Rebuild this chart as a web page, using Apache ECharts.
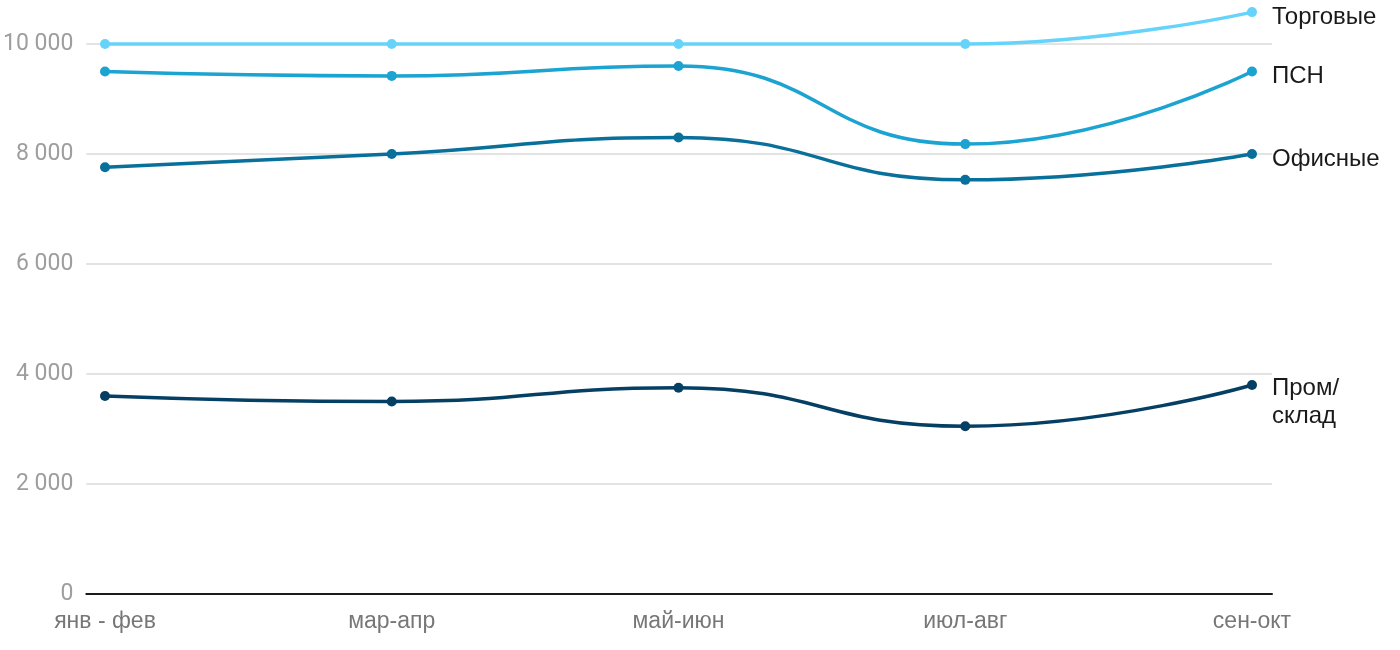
<!DOCTYPE html>
<html><head><meta charset="utf-8">
<script src="https://cdn.jsdelivr.net/npm/echarts@6/dist/echarts.min.js"></script>
<style>html,body{margin:0;padding:0;background:#fff}#c{width:1400px;height:650px}</style>
</head><body><div id="c"></div>
<script>
const categories = ['янв - фев', 'мар-апр', 'май-июн', 'июл-авг', 'сен-окт'];
const seriesNames = ['Торговые', 'ПСН', 'Офисные', 'Пром/\nсклад'];
const trade = [10000, 10000, 10000, 10000, 10580];
const psn = [9500, 9420, 9600, 8180, 9500];
const office = [7760, 8000, 8300, 7530, 8000];
const industrial = [3600, 3500, 3750, 3050, 3800];
const yTicks = [0, 2000, 4000, 6000, 8000, 10000];

const colors = ['#66d4fa', '#1ba3d1', '#08709a', '#053f63'];
const values = [trade, psn, office, industrial];
const chart = echarts.init(document.getElementById('c'));
const fmt = v => String(v).replace(/\B(?=(\d{3})+(?!\d))/g, ' ');
const series = values.map((d, i) => ({
  name: seriesNames[i], type: 'line', data: d, xAxisIndex: 1, yAxisIndex: 1,
  smooth: 0.5, symbol: 'circle', symbolSize: 10, showSymbol: true, clip: false,
  lineStyle: {width: 3.5, color: colors[i]}, itemStyle: {color: colors[i]},
  endLabel: {show: true, formatter: seriesNames[i], distance: 20, color: '#1a1a1a',
    fontFamily: 'Liberation Sans', fontSize: 24, lineHeight: 28,
    offset: i === 3 ? [0, 17] : [0, 5]},
  z: 10 - i
}));
chart.setOption({
  animation: false,
  grid: [
    {left: 86, right: 128, top: 44, bottom: 56},
    {left: 105, right: 148, top: 44, bottom: 56}
  ],
  xAxis: [
    {gridIndex: 0, type: 'category', data: categories, boundaryGap: false,
     axisLine: {lineStyle: {color: '#1a1a1a', width: 2}}, axisTick: {show: false},
     axisLabel: {show: false}, splitLine: {show: false}},
    {gridIndex: 1, type: 'category', data: categories, boundaryGap: false,
     axisLine: {show: false}, axisTick: {show: false},
     axisLabel: {color: '#777', fontFamily: 'Liberation Sans', fontSize: 23, margin: 16}}
  ],
  yAxis: [
    {gridIndex: 0, type: 'value', min: 0, max: 10000, interval: 2000,
     axisLine: {show: false}, axisTick: {show: false},
     axisLabel: {color: '#9e9e9e', fontFamily: 'Roboto', fontSize: 23, margin: 13, formatter: v => fmt(v)},
     splitLine: {lineStyle: {color: '#e3e3e3', width: 2}}},
    {gridIndex: 1, type: 'value', min: 0, max: 10000, interval: 2000, show: false}
  ],
  series: series
});
</script></body></html>
